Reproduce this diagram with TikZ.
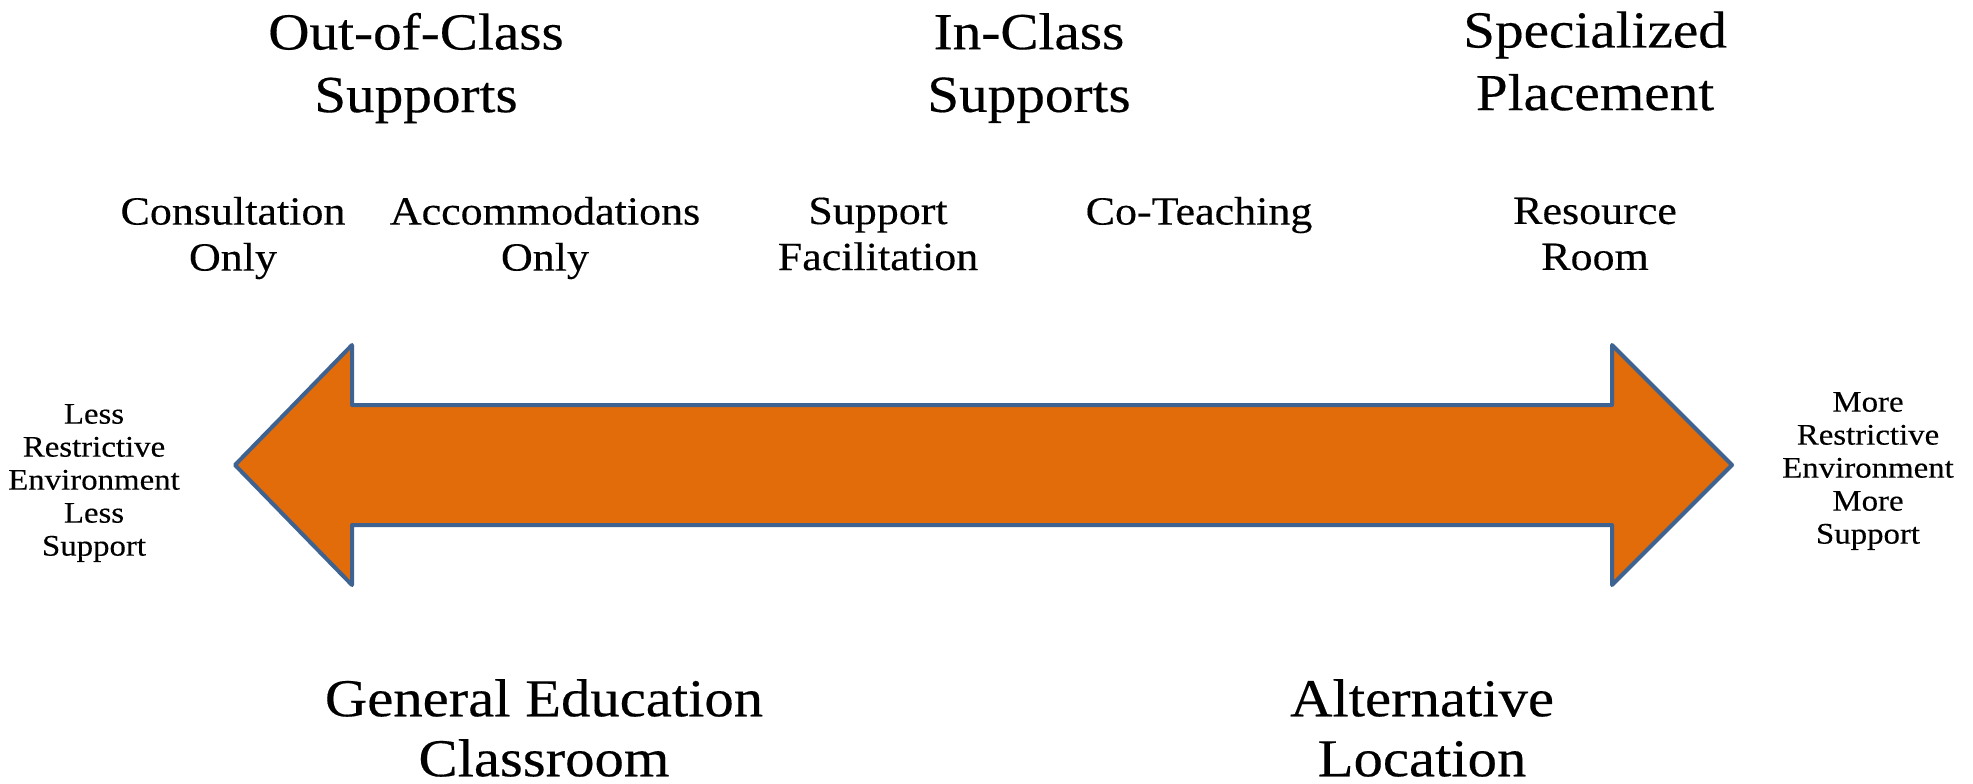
\documentclass[tikz,border=0pt]{standalone}
\usepackage{fontspec}
\setmainfont{Liberation Serif}[FakeStretch=1.1,FakeBold=0.3]
\definecolor{arrowfill}{HTML}{E36C0A}
\definecolor{arrowline}{HTML}{3F6390}
\begin{document}
\begin{tikzpicture}[x=0.75pt,y=-0.75pt,
  title/.style={align=center,inner sep=0pt,font=\fontsize{39}{47}\selectfont},
  item/.style={align=center,inner sep=0pt,font=\fontsize{30}{34.5}\selectfont},
  side/.style={align=center,inner sep=0pt,font=\fontsize{22.4}{24.75}\selectfont},
  place/.style={align=center,inner sep=0pt,font=\fontsize{40}{45}\selectfont}]
\useasboundingbox (0,0) rectangle (1973,783);
\fill[white] (0,0) rectangle (1973,783);
% double arrow
\draw[arrowline,fill=arrowfill,line width=3pt,line join=round]
  (235,465) -- (352,345) -- (352,405) -- (1612,405) -- (1612,345) -- (1732,465)
  -- (1612,585) -- (1612,525) -- (352,525) -- (352,585) -- cycle;
% titles
\node[title] (out) at (416,68) {Out-of-Class\\Supports};
\node[title] (in) at (1029,68) {In-Class\\Supports};
\node[title] (spec) at (1595,61) {Specialized\\Placement};
% items
\node[item] (cons) at (233,238) {Consultation\\Only};
\node[item] (acc) at (545,238) {Accommodations\\Only};
\node[item] (supf) at (878,234) {Support\\Facilitation};
\node[item] (cot) at (1199,215) {Co-Teaching};
\node[item] (res) at (1595,234) {Resource\\Room};
% sides
\node[side] (less) at (94,483) {Less\\Restrictive\\Environment\\Less\\Support};
\node[side] (more) at (1868,471) {More\\Restrictive\\Environment\\More\\Support};
% bottom
\node[place] (gen) at (544,728) {General Education\\Classroom};
\node[place] (alt) at (1422,728) {Alternative\\Location};
\end{tikzpicture}
\end{document}
